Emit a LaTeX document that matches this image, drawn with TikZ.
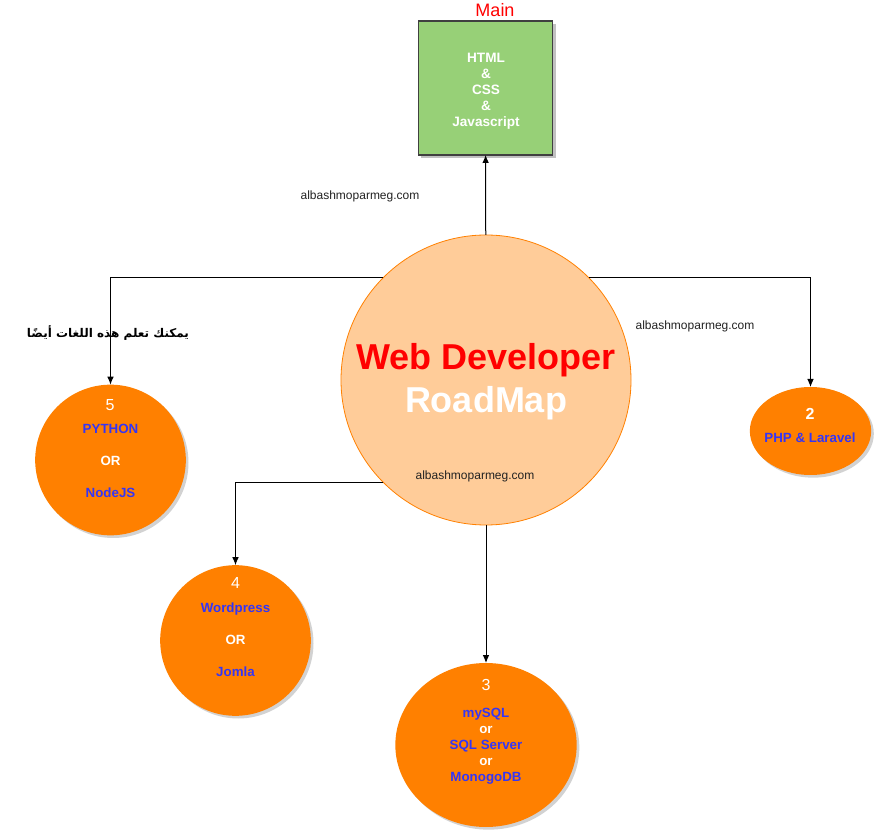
\documentclass[tikz,border=0pt]{standalone}
\usepackage{fontspec}
\setmainfont{Liberation Sans}
\newfontfamily\arabicfont[Script=Arabic]{DejaVu Sans}
\TeXXeTstate=1
\usepackage{xcolor}
\usepackage{tikz}
\usetikzlibrary{arrows.meta,shapes.geometric,shadows,positioning}
\definecolor{stepOrange}{HTML}{FF8000}
\definecolor{peach}{HTML}{FFCC99}
\definecolor{mainGreen}{HTML}{97D077}
\definecolor{langBlue}{HTML}{3535F5}
\definecolor{siteGrey}{HTML}{222222}
\tikzstyle{conn} = [line width=0.75pt, -{Latex[length=6pt,width=5pt]}]
\tikzstyle{stepShape} = [ellipse, fill=stepOrange, inner sep=0, outer sep=0,
drop shadow={shadow xshift=2pt, shadow yshift=-2pt, opacity=0.25, fill=black!70}]
\tikzstyle{numTxt} = [white, font=\fontsize{12}{14}\selectfont]
\tikzstyle{langTxt} = [langBlue, align=center, font=\bfseries\fontsize{10}{12}\selectfont]
\tikzstyle{siteTxt} = [siteGrey, font=\fontsize{9}{11}\selectfont]

\begin{document}
\begin{tikzpicture}[x=0.75pt,y=-0.75pt]
		\useasboundingbox (0,0) rectangle (882,837);
		% nodes
		\node[rectangle, fill=mainGreen, draw=black!75, line width=0.9pt, inner sep=0, outer sep=0,
			minimum width=101pt, minimum height=100.5pt,
			drop shadow={shadow xshift=2pt, shadow yshift=-2pt, opacity=0.35, fill=black!70}] (main) at (485.5,88) {};	% Grundlagen
		\node[white, align=center, font=\bfseries\fontsize{10.2}{12}\selectfont] (main-txt) at (486,91) {HTML\\\&\\CSS\\\&\\Javascript};
		\node[red, font=\fontsize{13.5}{15}\selectfont] (main-lbl) at (495,10) {Main};
		\node[circle, fill=peach, draw=stepOrange, line width=0.6pt, inner sep=0, outer sep=0,
			minimum size=217.5pt] (web) at (486,380) {};	% Mitte
		\node[red, font=\bfseries\fontsize{27}{30}\selectfont] (web-t1) at (486,360) {Web Developer};
		\node[white, font=\bfseries\fontsize{27}{30}\selectfont] (web-t2) at (486,403) {RoadMap};
		\node[siteTxt] (site-c) at (475,476) {albashmoparmeg.com};
		\node[siteTxt] (site-l) at (360,196) {albashmoparmeg.com};
		\node[siteTxt] (site-r) at (695,326) {albashmoparmeg.com};
		\node[stepShape, minimum width=91pt, minimum height=66pt] (php) at (810.5,431) {};		% Schritt 2
		\node[numTxt, font=\bfseries\fontsize{12}{14}\selectfont] (php-n) at (810,414) {2};
		\node[langTxt] (php-t) at (810,438) {PHP \& Laravel};
		\node[stepShape, minimum width=136pt, minimum height=123pt] (db) at (486,745) {};	% Schritt 3
		\node[numTxt] (db-n) at (486,685) {3};
		\node[langTxt] (db-t) at (486,746) {mySQL\\\textcolor{white}{or}\\SQL Server\\\textcolor{white}{or}\\MonogoDB};
		\node[stepShape, minimum width=113pt, minimum height=113pt] (cms) at (235.5,640.5) {};	% Schritt 4
		\node[numTxt] (cms-n) at (235.5,583) {4};
		\node[langTxt] (cms-t) at (235.5,640) {Wordpress\\[12pt]\textcolor{white}{OR}\\[12pt]Jomla};
		\node[stepShape, minimum width=113pt, minimum height=113pt] (py) at (110.5,460) {};	% Schritt 5
		\node[numTxt] (py-n) at (110,405) {5};
		\node[langTxt] (py-t) at (110.5,461) {PYTHON\\[12pt]\textcolor{white}{OR}\\[12pt]NodeJS};
		\node[black, font=\arabicfont\bfseries\fontsize{9}{11}\selectfont] (also) at (108,333) {\beginR يمكنك تعلم هذه اللغات أيضًا\endR};
		
		% arrows
		\draw[conn] (web) to (main);
		\draw[conn] (web.45) -| (php);
		\draw[conn] (web) to (db);
		\draw[conn] (web.225) -| (cms);
		\draw[conn] (web.135) -| (py);
\end{tikzpicture}
\end{document}
